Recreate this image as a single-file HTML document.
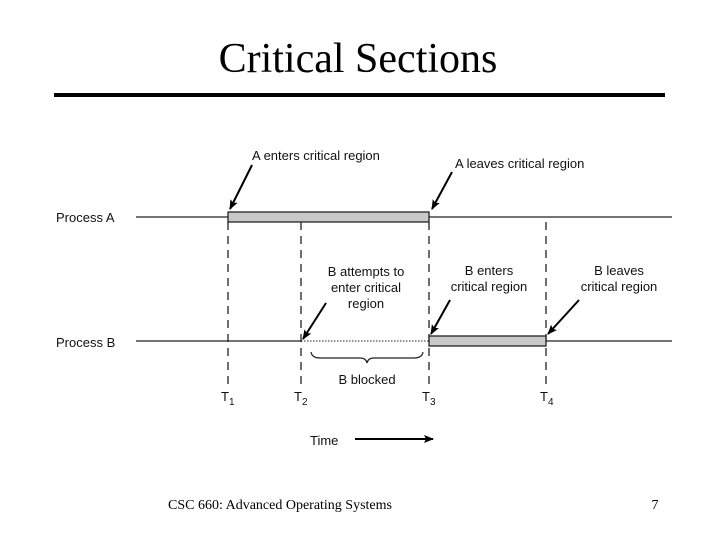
<!DOCTYPE html>
<html><head><style>
body{margin:0;width:720px;height:540px;background:#fff;overflow:hidden}
</style></head><body>
<svg width="720" height="540" xmlns="http://www.w3.org/2000/svg">
<defs><marker id="ah" markerWidth="10" markerHeight="8" refX="9" refY="4" orient="auto" markerUnits="userSpaceOnUse"><path d="M0,0 L10,4 L0,8 L2,4 Z" fill="#000"/></marker></defs>
<text x="358" y="72" font-family="Liberation Serif, serif" font-size="42" text-anchor="middle">Critical Sections</text>
<rect x="54" y="93" width="611" height="4" fill="#000"/>
<g font-family="Liberation Sans, sans-serif" font-size="13" fill="#111">
<text x="56" y="222">Process A</text>
<text x="56" y="347">Process B</text>
<text x="252" y="160">A enters critical region</text>
<text x="455" y="168">A leaves critical region</text>
<text x="366" y="276" text-anchor="middle">B attempts to</text>
<text x="366" y="292" text-anchor="middle">enter critical</text>
<text x="366" y="308" text-anchor="middle">region</text>
<text x="489" y="275" text-anchor="middle">B enters</text>
<text x="489" y="291" text-anchor="middle">critical region</text>
<text x="619" y="275" text-anchor="middle">B leaves</text>
<text x="619" y="291" text-anchor="middle">critical region</text>
<text x="367" y="384" text-anchor="middle">B blocked</text>
<text x="221" y="401">T<tspan font-size="10" dy="4">1</tspan></text>
<text x="294" y="401">T<tspan font-size="10" dy="4">2</tspan></text>
<text x="422" y="401">T<tspan font-size="10" dy="4">3</tspan></text>
<text x="540" y="401">T<tspan font-size="10" dy="4">4</tspan></text>
<text x="310" y="445">Time</text>
</g>
<g stroke="#222" stroke-width="1.3">
<line x1="136" y1="217" x2="672" y2="217"/>
<line x1="136" y1="341" x2="301" y2="341"/>
<line x1="546" y1="341" x2="672" y2="341"/>
<line x1="301" y1="341" x2="429" y2="341" stroke-dasharray="1.5,1.5" stroke-width="1"/>
<g stroke-dasharray="8,6">
<line x1="228" y1="222" x2="228" y2="385"/>
<line x1="301" y1="222" x2="301" y2="385"/>
<line x1="429" y1="222" x2="429" y2="385"/>
<line x1="546" y1="222" x2="546" y2="385"/>
</g>
</g>
<rect x="228" y="212" width="201" height="10" fill="#c8c8c8" stroke="#222" stroke-width="1.3"/>
<rect x="429" y="336" width="117" height="10" fill="#c8c8c8" stroke="#222" stroke-width="1.3"/>
<path d="M311,352 Q312,358 320,358 L360,358 Q366,358 367,363 Q368,358 374,358 L414,358 Q422,358 423,352" fill="none" stroke="#222" stroke-width="1.2"/>
<g stroke="#000" stroke-width="2" marker-end="url(#ah)">
<line x1="252" y1="165" x2="230" y2="209"/>
<line x1="452" y1="172" x2="432" y2="209"/>
<line x1="326" y1="303" x2="303" y2="339"/>
<line x1="450" y1="300" x2="431" y2="334"/>
<line x1="579" y1="300" x2="548" y2="334"/>
<line x1="355" y1="439" x2="433" y2="439"/>
</g>
<text x="280" y="509" font-family="Liberation Serif, serif" font-size="14" text-anchor="middle">CSC 660: Advanced Operating Systems</text>
<text x="655" y="509" font-family="Liberation Serif, serif" font-size="14" text-anchor="middle">7</text>
</svg>
</body></html>
